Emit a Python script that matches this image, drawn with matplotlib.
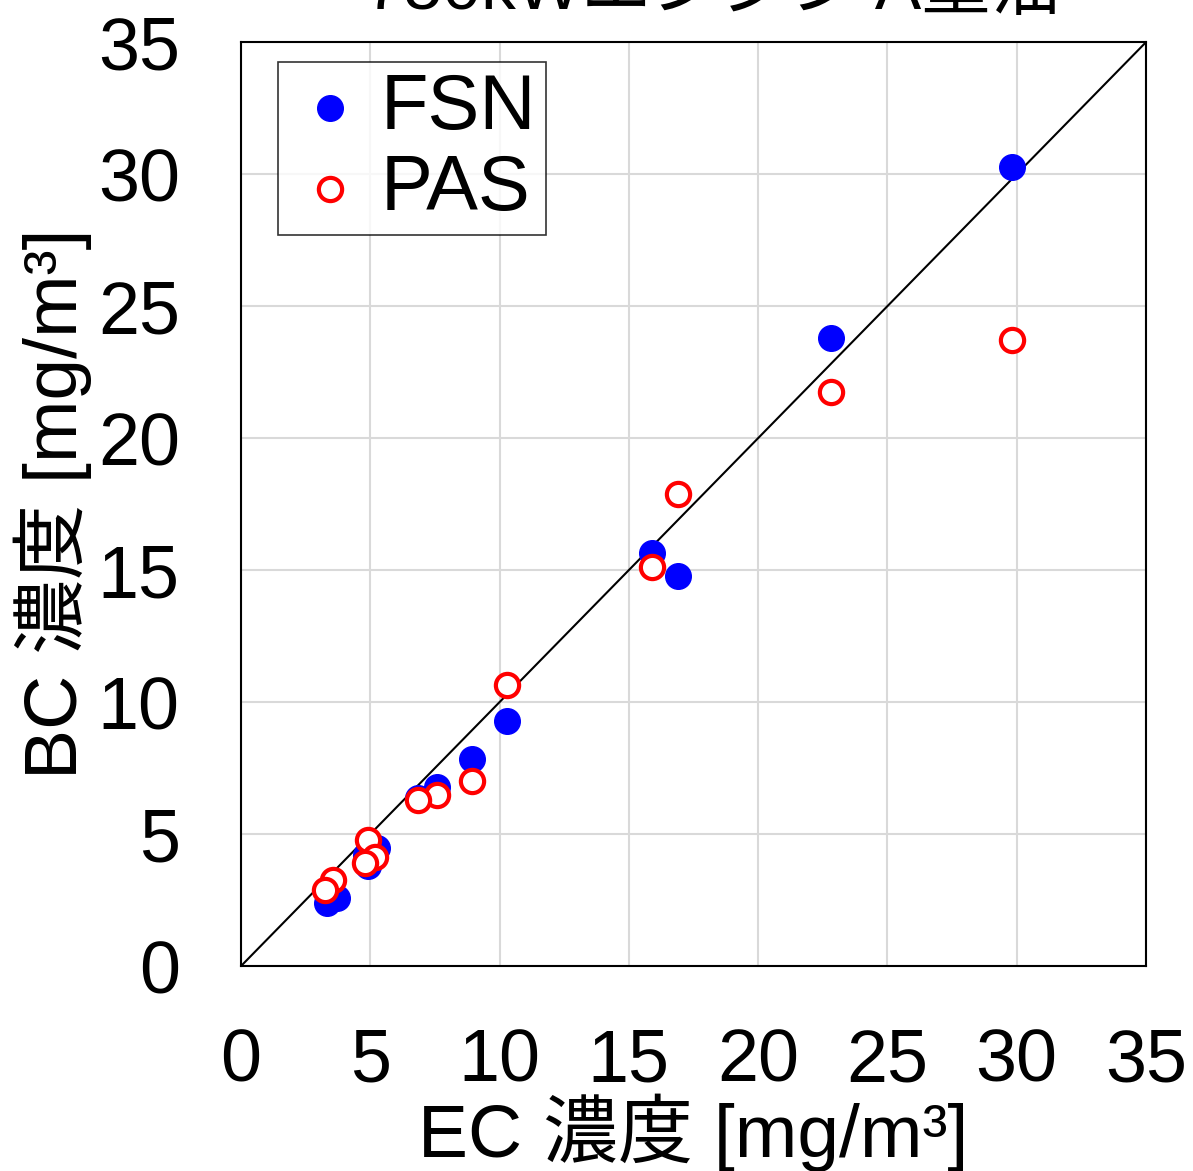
import matplotlib.pyplot as plt

plt.rcParams['font.family'] = ['Liberation Sans', 'Noto Sans CJK JP']

fsn_x = [29.8, 22.8, 15.9, 16.9, 10.3, 8.93, 7.58, 6.84, 4.91, 4.83, 5.26, 3.33, 3.71]
fsn_y = [30.27, 23.8, 15.64, 14.77, 9.3, 7.84, 6.78, 6.36, 3.79, 4.2, 4.47, 2.39, 2.58]

pas_x = [29.8, 22.8, 16.9, 15.9, 10.3, 8.93, 7.58, 6.84, 4.91, 5.18, 4.8, 3.56, 3.25]
pas_y = [23.7, 21.74, 17.9, 15.1, 10.64, 7.0, 6.48, 6.29, 4.77, 4.13, 3.9, 3.26, 2.88]

ticks = [0, 5, 10, 15, 20, 25, 30, 35]

fig = plt.figure(figsize=(11.93, 11.71), dpi=100)
ax = fig.add_axes([0.202, 0.175, 0.7586, 0.789])

ax.plot([0, 35], [0, 35], color='black', lw=1.5, zorder=2)
ax.scatter(fsn_x, fsn_y, s=340, color='blue', label='FSN', zorder=3)
ax.scatter(pas_x, pas_y, s=280, facecolor='white', edgecolor='red', linewidth=3, label='PAS', zorder=4)

ax.set_xlim(0, 35)
ax.set_ylim(0, 35)
ax.set_xticks(ticks)
ax.set_yticks(ticks)
ax.grid(color='#d9d9d9', lw=1.5)
ax.set_axisbelow(True)
ax.tick_params(length=0, labelsize=53, pad=44)
for s in ax.spines.values():
    s.set_linewidth(1.5)

ax.set_xlabel('EC 濃度 [mg/m³]', fontsize=54, labelpad=-2)
ax.set_ylabel('BC 濃度 [mg/m³]', fontsize=54, labelpad=4)

leg = ax.legend(loc='upper left', bbox_to_anchor=(0.041, 0.978), borderaxespad=0,
                fontsize=56, frameon=True, fancybox=False,
                edgecolor='black', borderpad=0.12, handletextpad=0.1, handlelength=1.1,
                labelspacing=0.1)
leg.get_frame().set_linewidth(1.2)

fig.text(0.597, 1.008, '750kWエンジン A重油', fontsize=50, ha='center', va='center')

fig.savefig('out.png', dpi=100)
